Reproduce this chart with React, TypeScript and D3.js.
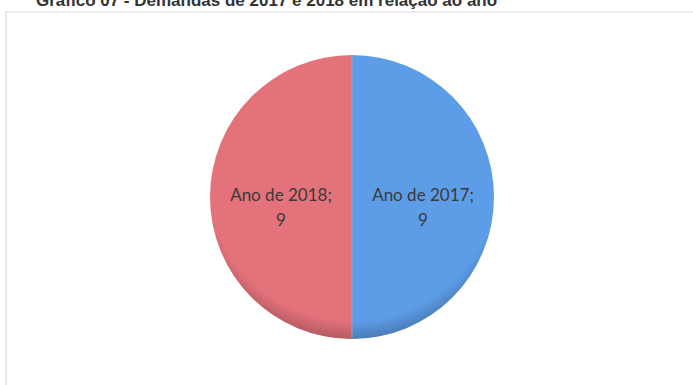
import React from "react";
import * as d3 from "d3";

const categories = ["Ano de 2017", "Ano de 2018"];
const values = [9, 9];
const colors = ["#5D9DE7", "#E4727B"];
const titleText = "Gráfico 07 - Demandas de 2017 e 2018 em relação ao ano";

export default function App() {
  const W = 693, H = 385;
  const cx = 352, cy = 197, r = 142;
  const data = categories.map((c, i) => ({ c, v: values[i] }));
  const pie = d3.pie<any>().value((d) => d.v).sort(null).startAngle(0).endAngle(2 * Math.PI);
  const arcs = pie(data);
  const arc = d3.arc<any>().innerRadius(0).outerRadius(r);
  const labelArc = d3.arc<any>().innerRadius(r).outerRadius(r);
  return (
    <svg width={W} height={H} style={{ position: "absolute", left: 0, top: 0, background: "#fff" }}>
      <defs>
        <radialGradient id="shade" cx="0.5" cy="0.42" r="0.6">
          <stop offset="0.86" stopColor="#000" stopOpacity={0} />
          <stop offset="1" stopColor="#000" stopOpacity={0.28} />
        </radialGradient>
      </defs>
      <text x={36} y={6} fontFamily="Liberation Sans, Arial, sans-serif" fontWeight="bold" fontSize={17} fill="#333">
        {titleText}
      </text>
      <rect x={6} y={12} width={700} height={390} fill="none" stroke="#d8d8e6" strokeWidth={1} />
      <g transform={`translate(${cx},${cy})`}>
        {arcs.map((a, i) => (
          <path key={i} d={arc(a) as string} fill={colors[i]} />
        ))}
        <circle r={r} fill="url(#shade)" />
        <line x1={0} y1={-r} x2={0} y2={r} stroke="#c9a7c6" strokeWidth={1} opacity={0.6} />
        {arcs.map((a, i) => {
          const [x, y] = labelArc.centroid(a);
          const lx = x * 0.5;
          return (
            <text key={i} x={lx} y={y + 4} textAnchor="middle" fontFamily="Lato, Noto Sans, sans-serif" fontSize={17} fill="#3a3a3a">
              <tspan x={lx} dy={0}>{`${a.data.c};`}</tspan>
              <tspan x={lx} dy={25}>{a.data.v}</tspan>
            </text>
          );
        })}
      </g>
    </svg>
  );
}
